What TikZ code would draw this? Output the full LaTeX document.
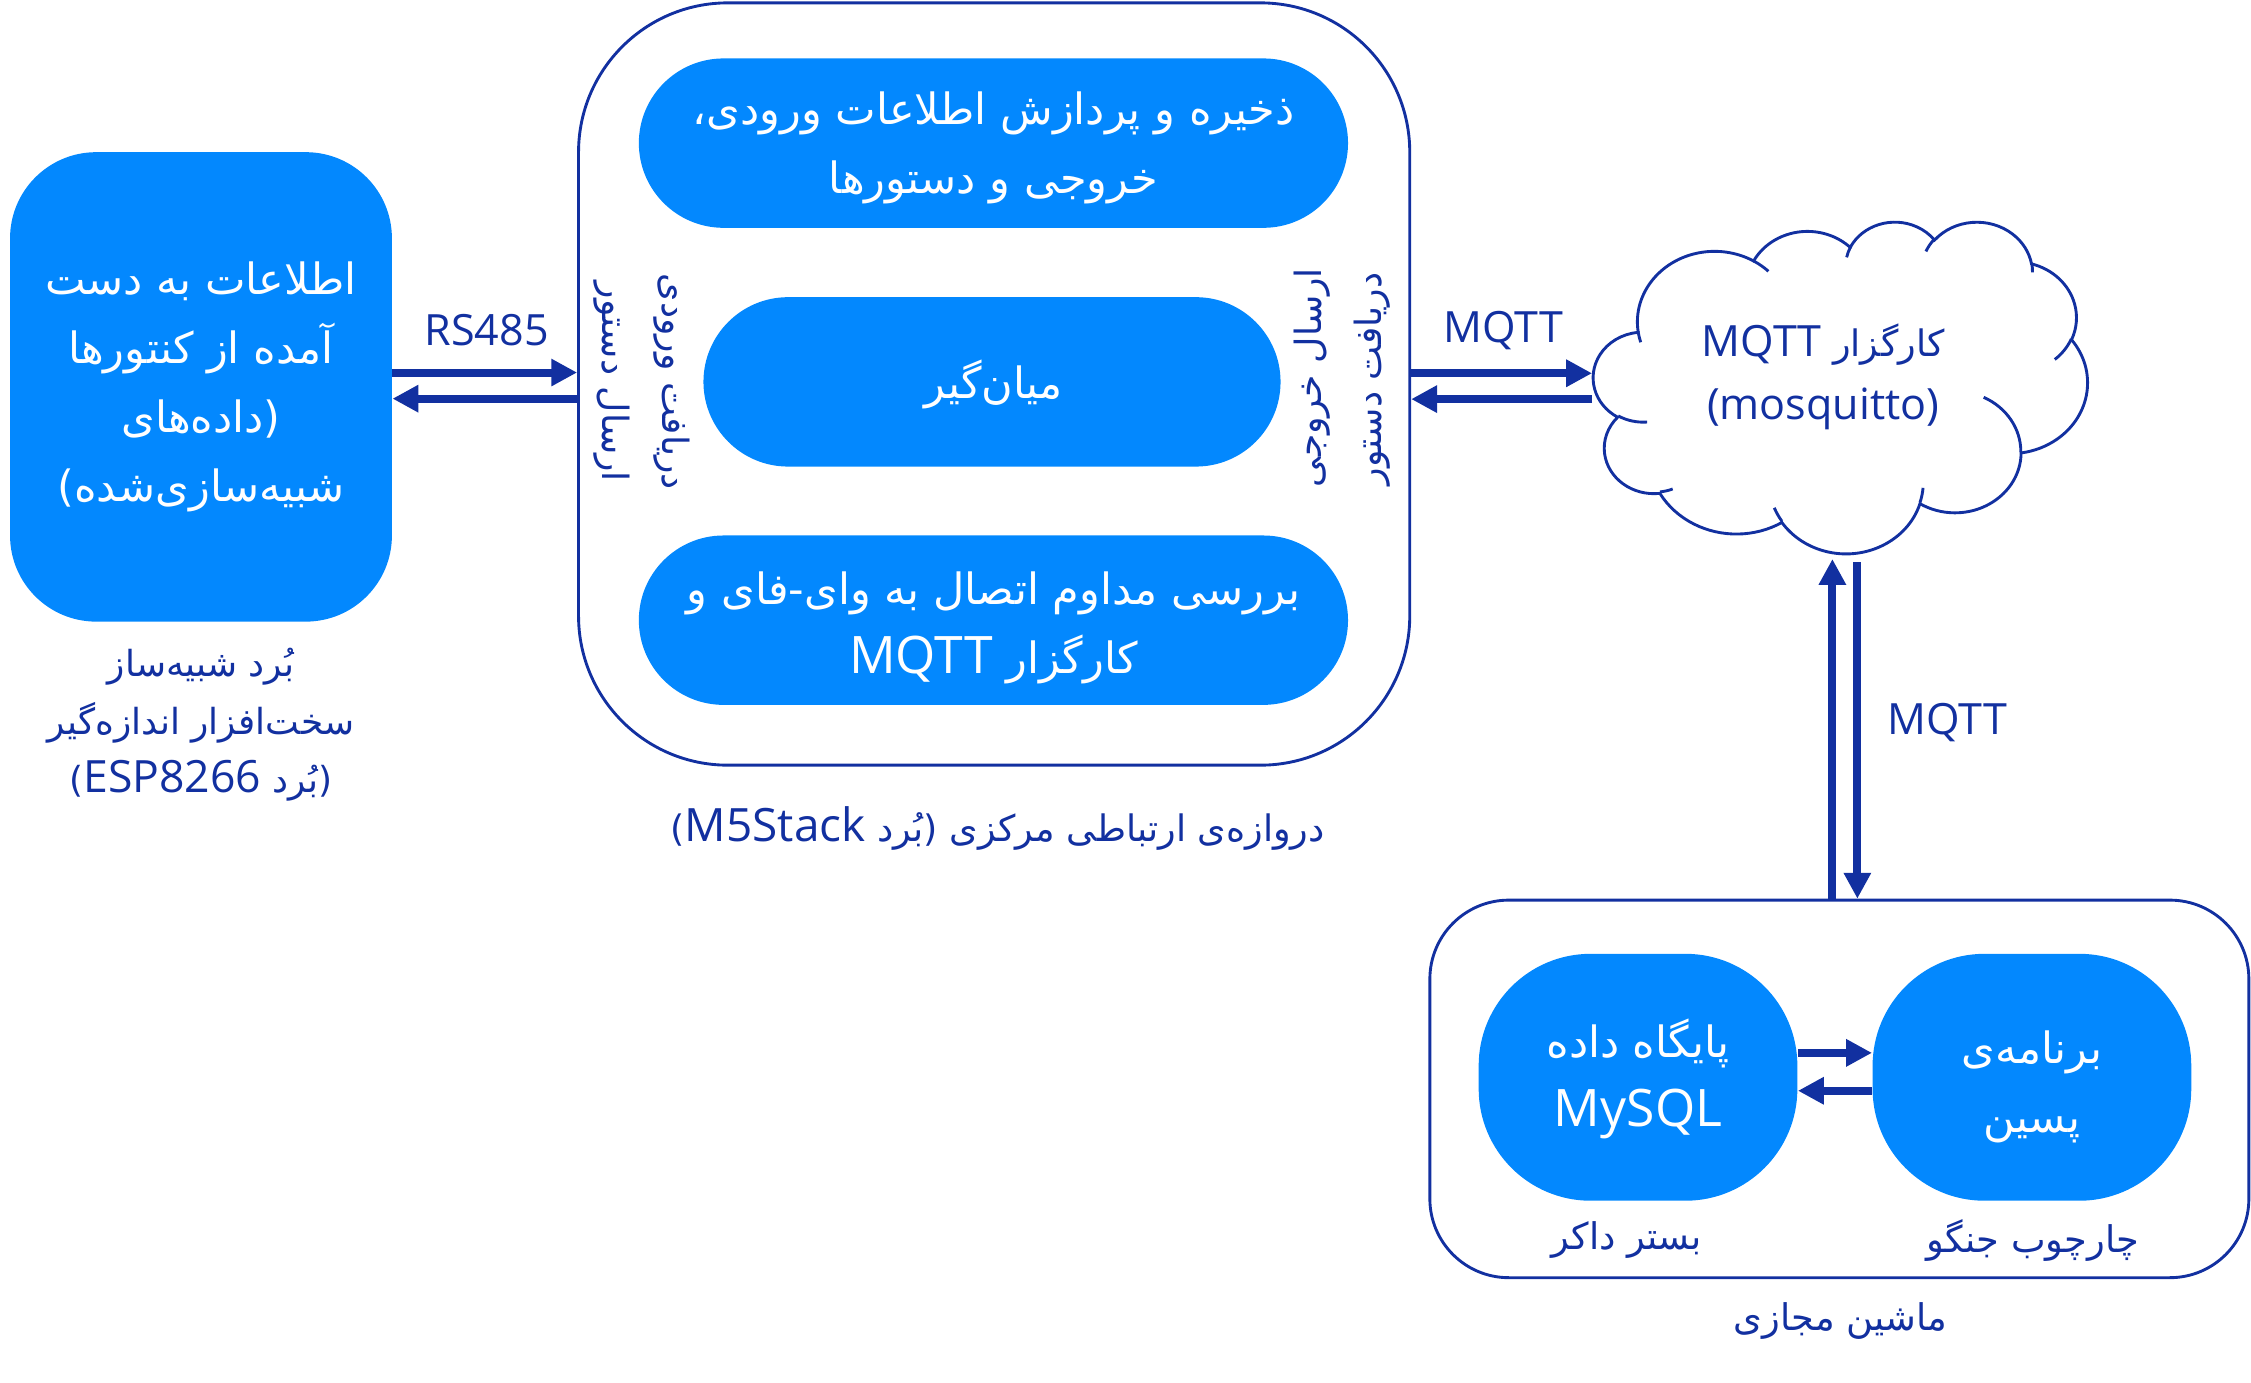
\documentclass[tikz,border=0pt]{standalone}
\usepackage{fontspec}
\setmainfont{Open Sans}
\newfontfamily\fafont[Script=Arabic]{DejaVu Sans}
\TeXXeTstate=1
\usetikzlibrary{arrows.meta}
\definecolor{fillblue}{RGB}{3,136,254}
\definecolor{dblue}{RGB}{18,48,160}
\newcommand\fa[1]{{\fafont\beginR #1\endR}}
\newcommand\la[2][]{\beginL{\rmfamily#1\relax#2}\endL{}}
\newcommand\fs{\fontsize{15}{24}\selectfont}
\newcommand\fsz[2]{\fontsize{#1}{#2}\selectfont}
\begin{document}
\begin{tikzpicture}[x=0.5pt,y={(0pt,-0.5pt)},
  bluebox/.style={rectangle, fill=fillblue, text=white, inner sep=0pt, align=center, font=\fs},
  frame/.style={rectangle, draw=dblue, line width=1pt, inner sep=0pt},
  lbl/.style={text=dblue, inner sep=0pt, align=center, font=\fs},
  wlbl/.style={lbl, text=white},
  arr/.style={draw=dblue, line width=2.8pt, -{Triangle[length=9pt,width=9pt]}},
  cloudline/.style={draw=dblue, line width=1pt},
  ooarc/.style n args={4}{start angle={atan2((#1)*sin(#3),(#2)*cos(#3))},
    delta angle={mod(atan2((#1)*sin((#3)+(#4)),(#2)*cos((#3)+(#4)))-atan2((#1)*sin(#3),(#2)*cos(#3))+720,360)},
    x radius=#1, y radius=#2}]
\useasboundingbox (0,0) rectangle (1568,963);

% ESP board
\node[bluebox, rounded corners=30pt, minimum width=133pt, minimum height=163.5pt] (esp) at (140,269.5)
  {\fa{اطلاعات به دست}\\ \fa{آمده از کنتورها}\\ \fa{(داده^^^^200cهای}\\ \fa{شبیه^^^^200cسازی^^^^200cشده)}};
\node[lbl, font=\fsz{12.5}{20.25}] (esplbl) at (140,505)
  {\fa{بُرد شبیه^^^^200cساز}\\ \fa{سخت^^^^200cافزار اندازه^^^^200cگیر}\\ \fa{(بُرد \la[\fsz{15.5}{20.25}]{ESP8266})}};

% Gateway
\node[frame, rounded corners=52pt, minimum width=289.5pt, minimum height=265.5pt] (gw) at (692.5,267.5) {};
\node[bluebox, rounded corners=29.5pt, minimum width=247pt, minimum height=59pt] (store) at (692,99.7) {};
\node[wlbl] (storetxt) at (692,103.2) {\fa{ذخیره و پردازش اطلاعات ورودی،}\\ \fa{خروجی و دستورها}};
\node[bluebox, rounded corners=29.5pt, minimum width=201pt, minimum height=59pt] (buf) at (691,266) {};
\node[wlbl] (buftxt) at (692,268) {\fa{میان^^^^200cگیر}};
\node[bluebox, rounded corners=29.5pt, minimum width=247pt, minimum height=59pt] (check) at (692,432) {};
\node[wlbl] (checktxt) at (692,437.5) {\fa{بررسی مداوم اتصال به وای-فای و}\\ \fa{کارگزار \la[\fsz{18}{24}]{MQTT}}};
\node[lbl, rotate=-90, font=\fsz{12.6}{16}] (in1) at (468,266) {\fa{دریافت ورودی}};
\node[lbl, rotate=-90, font=\fsz{12.6}{16}] (in2) at (426,266) {\fa{ارسال دستور}};
\node[lbl, rotate=90, font=\fsz{12.6}{16}] (out1) at (914,263) {\fa{ارسال خروجی}};
\node[lbl, rotate=90, font=\fsz{12.6}{16}] (out2) at (956,264) {\fa{دریافت دستور}};
\node[lbl, font=\fsz{12.7}{20}] (gwlbl) at (695,577) {\fa{دروازه^^^^200cی ارتباطی مرکزی (بُرد \la[\fsz{16}{20}]{M5Stack})}};

% Cloud (broker)
\begin{scope}[shift={(1110,154)}, x={(0.39815pt,0pt)}, y={(0pt,-0.26736pt)}]
\draw[cloudline] (39.00,143.70)
  arc[ooarc={67.53}{91.90}{-190.4875}{123.7805}]
  arc[ooarc={53.33}{72.67}{-144.1024}{89.9452}]
  arc[ooarc={43.65}{59.45}{-145.8079}{99.7230}]
  arc[ooarc={48.57}{65.95}{-130.9861}{117.2417}]
  arc[ooarc={53.33}{72.73}{-78.7089}{109.0269}]
  arc[ooarc={67.75}{92.20}{-46.2673}{130.2690}]
  arc[ooarc={57.85}{78.67}{0.6250}{114.0333}]
  arc[ooarc={67.52}{92.15}{22.4516}{115.1726}]
  arc[ooarc={77.20}{105.43}{66.2426}{75.7110}]
  arc[ooarc={43.60}{59.18}{-274.9421}{146.7356}]
  arc[ooarc={43.45}{59.45}{-246.8285}{152.5189}]
  -- cycle;
\draw[cloudline] (46.93,261.77) arc[ooarc={43.45}{59.45}{86.7420}{26.4295}];
\draw[cloudline] (69.28,348.99) arc[ooarc={43.60}{59.18}{73.6105}{11.4475}];
\draw[cloudline] (164.78,390.90) arc[ooarc={67.52}{92.15}{137.6242}{14.0811}];
\draw[cloudline] (288.27,347.51) arc[ooarc={67.52}{92.15}{6.4533}{15.9984}];
\draw[cloudline] (341.29,229.54) arc[ooarc={57.85}{78.67}{-70.2924}{70.9174}];
\draw[cloudline] (417.98,153.54) arc[ooarc={53.33}{72.73}{30.3180}{27.7515}];
\draw[cloudline] (383.24,54.26) arc[ooarc={48.57}{65.95}{-13.7443}{14.8589}];
\draw[cloudline] (290.78,39.52) arc[ooarc={48.57}{65.95}{-149.1815}{18.1954}];
\draw[cloudline] (221.41,47.20) arc[ooarc={43.65}{59.45}{-163.4943}{17.6864}];
\draw[cloudline] (140.00,51.92) arc[ooarc={67.53}{91.90}{-66.7070}{12.3194}];
\draw[cloudline] (41.27,157.89) arc[ooarc={67.53}{91.90}{157.6544}{11.8582}];
\end{scope}
\node[lbl, font=\fsz{12.7}{24}] (brk1) at (1270,240) {\fa{کارگزار \la[\fsz{15}{24}]{MQTT}}};
\node[lbl] (brk2) at (1270,285) {(mosquitto)};

% VM
\node[frame, rounded corners=27.5pt, minimum width=285.25pt, minimum height=131.5pt] (vm) at (1281.25,758.5) {};
\node[bluebox, rounded corners=39pt, minimum width=111pt, minimum height=86pt] (db) at (1141,750.4) {};
\node[wlbl] (dbtxt) at (1141,751.5) {\fa{پایگاه داده}\\ {\fsz{18}{22}MySQL}};
\node[bluebox, rounded corners=39pt, minimum width=111pt, minimum height=86pt] (be) at (1415.4,750.4) {};
\node[wlbl] (betxt) at (1415.4,757) {\fa{برنامه^^^^200cی}\\ \fa{پسین}};
\node[lbl, font=\fsz{12.8}{20}] (dblbl) at (1133,864) {\fa{بستر داکر}};
\node[lbl, font=\fsz{12.8}{20}] (belbl) at (1416,864) {\fa{چارچوب جنگو}};
\node[lbl, font=\fsz{12.8}{20}] (vmlbl) at (1282,920) {\fa{ماشین مجازی}};

% labels on connectors
\node[lbl] (rs) at (339,230) {RS485};
\node[lbl] (mq1) at (1047,230) {MQTT};
\node[lbl] (mq2) at (1356.5,503) {MQTT};

% connectors
\coordinate (ya) at (0,259.5);
\coordinate (yb) at (0,277.7);
\draw[arr] (esp.east |- ya) -- (gw.west |- ya);
\draw[arr] (gw.west |- yb) -- (esp.east |- yb);
\coordinate (ca) at (1109,260);
\coordinate (cb) at (1109,278);
\draw[arr] (gw.east |- ca) -- (ca);
\draw[arr] (cb) -- (gw.east |- cb);
\coordinate (cu) at (1276.4,389.4);
\coordinate (cd) at (1293.8,391.5);
\draw[arr] (vm.north -| cu) -- (cu);
\draw[arr] (cd) -- (vm.north -| cd);
\coordinate (da) at (0,733.4);
\coordinate (db2) at (0,759.8);
\draw[arr] (db.east |- da) -- (be.west |- da);
\draw[arr] (be.west |- db2) -- (db.east |- db2);
\end{tikzpicture}
\end{document}
